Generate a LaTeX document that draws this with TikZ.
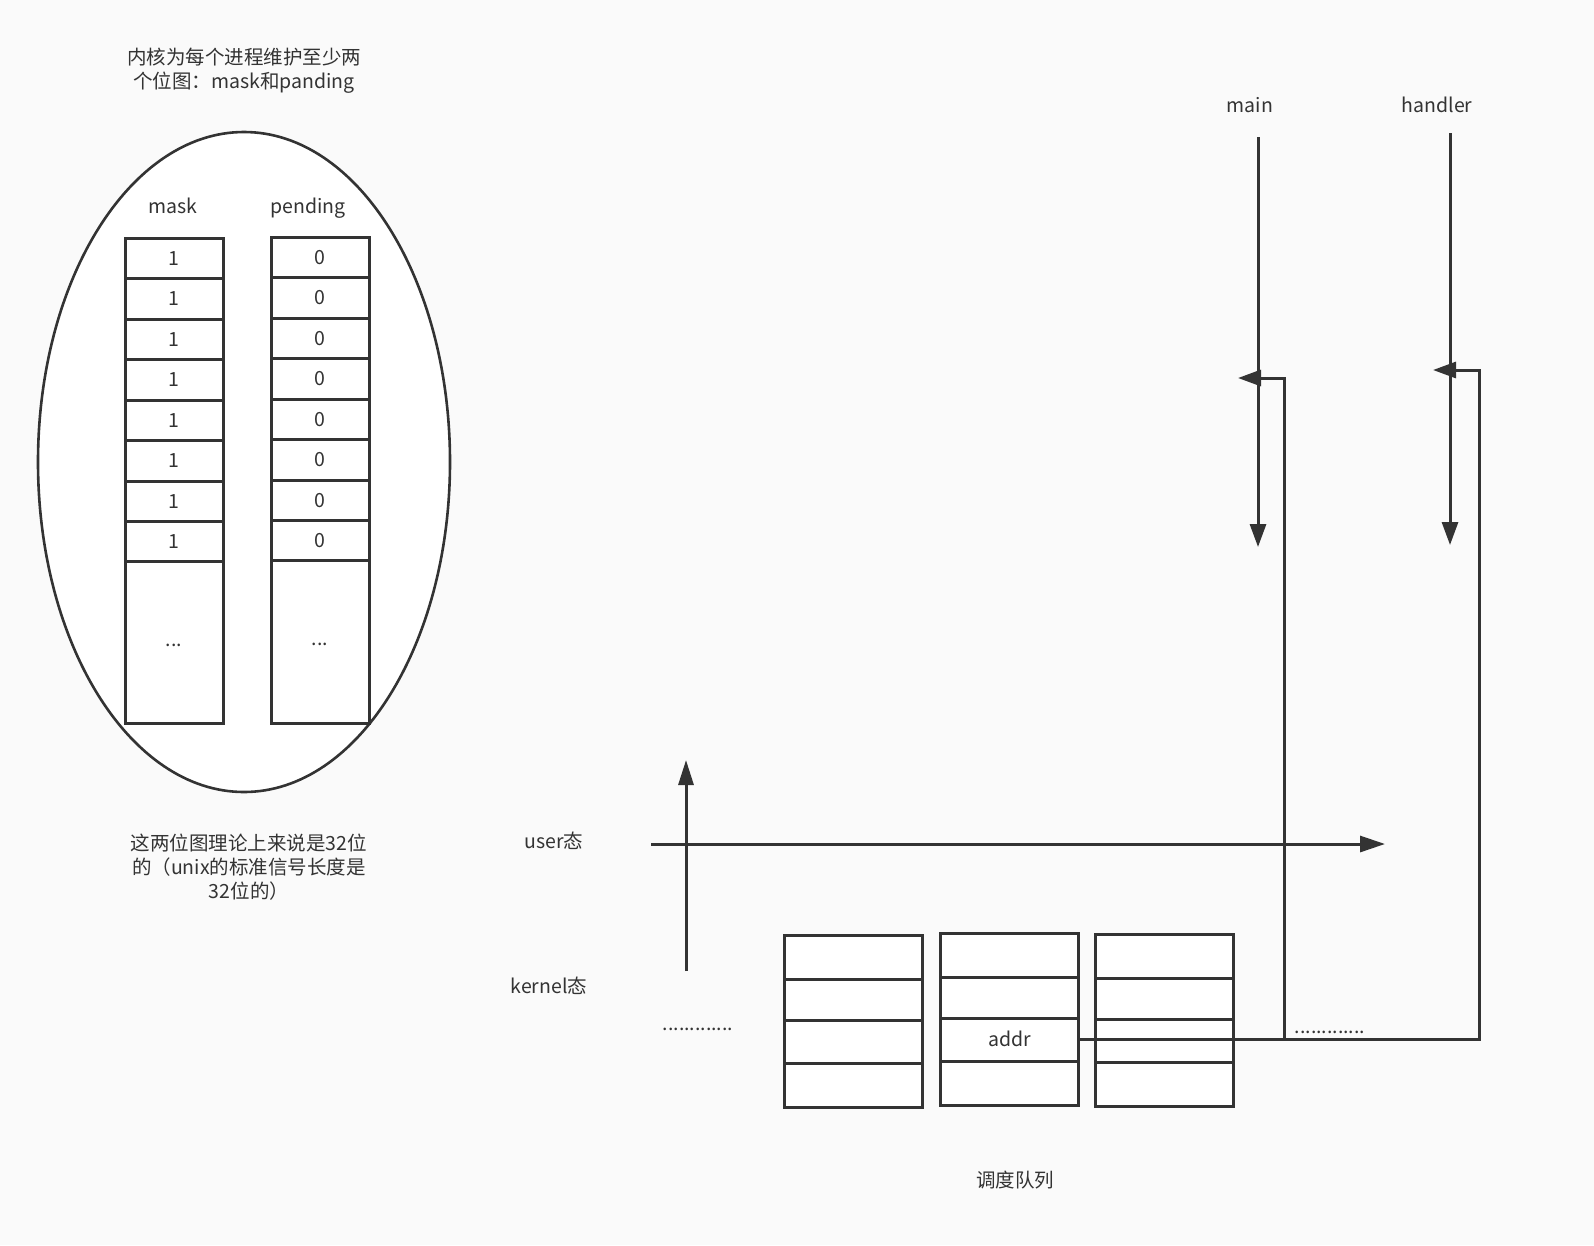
\documentclass[tikz,border=0pt]{standalone}
\usepackage{fontspec}
\setmainfont{Noto Sans CJK SC}
\usepackage{tikz}
\usetikzlibrary{arrows.meta}

\definecolor{ink}{HTML}{333333}
\definecolor{paper}{HTML}{FAFAFA}

\tikzset{
  txt/.style={text=ink, align=center, inner sep=0pt, font=\fontsize{19.5}{24}\selectfont},
  cell/.style={txt, draw=ink, fill=white, line width=3pt, minimum width=98pt, minimum height=40.5pt},
  qcell/.style={cell, minimum width=138pt},
  flow/.style={draw=ink, line width=3pt, -{Triangle[length=23pt,width=16pt]}},
}

\begin{document}
\begin{tikzpicture}[x=1pt,y=-1pt]

\fill[paper] (0,0) rectangle (1594,1245);
\useasboundingbox (0,0) rectangle (1594,1245);

% the two bitmaps
\node[txt] (title) at (244,71) {内核为每个进程维护至少两\\个位图：mask和panding};
\draw[ink, fill=white, line width=2.6pt] (244,462) ellipse [x radius=206, y radius=330];

\node[txt] (maskhd) at (173,206) {mask};
\node[txt] (pendhd) at (308,208) {pending};

\foreach \i in {1,...,8} {
  \node[cell] (m\i) at (174, 218+40.5*\i) {1};
  \node[cell] (p\i) at (320, 217+40.5*\i) {0};
}
\node[cell, minimum height=162pt] (mtail) at (174,642) {\raisebox{-9pt}{...}};
\node[cell, minimum height=163pt] (ptail) at (320,641.5) {\raisebox{-9pt}{...}};

\node[txt] (note) at (249,867) {这两位图理论上来说是32位\\的（unix的标准信号长度是\\32位的）};

% user / kernel
\node[txt] (user) at (554,841) {user态};
\node[txt] (kernel) at (549,986) {kernel态};

\coordinate (axL) at (651,844);
\coordinate (axR) at (1385,844);
\coordinate (upB) at (686,971);
\coordinate (upT) at (686,760);
\draw[flow, -{Triangle[length=25pt,width=16pt]}] (axL) -- (axR);
\draw[flow, -{Triangle[length=25pt,width=15pt]}] (upB) -- (upT);

% run queue
\foreach \c/\x/\t in {1/853/935, 2/1009.5/933, 3/1164/934} {
  \foreach \r/\ya/\h in {a/0/44, b/44/41, c/85/43, d/128/44} {
    \node[qcell, minimum height=\h pt] (q\c\r) at (\x, \t+\ya+\h/2) {};
  }
}
\node[txt] (addr) at ([yshift=1pt]q2c.center) {addr};
\node[txt] (ldots) at (698,1029) {.............};
\node[txt] (queue) at (1015,1180) {调度队列};

% main and handler
\node[txt] (mainhd) at (1250,105) {main};
\node[txt] (handhd) at (1437,105) {handler};

\coordinate (mainTop) at (1258,137);
\coordinate (mainEnd) at (1258,547);
\coordinate (handTop) at (1450,133);
\coordinate (handEnd) at (1450,545);
\draw[flow] (mainTop) -- (mainEnd);
\draw[flow] (handTop) -- (handEnd);

\coordinate (mbend) at (1284,378);
\coordinate (mainRet) at (1238,378);
\coordinate (hbend) at (1479,370);
\coordinate (handRet) at (1433,370);
\draw[flow] (q2c.east) -| (hbend) -- (handRet);
\draw[flow] (q2c.east -| mbend) -- (mbend) -- (mainRet);

\node[txt] (rdots) at (1330,1032) {.............};

\end{tikzpicture}
\end{document}
